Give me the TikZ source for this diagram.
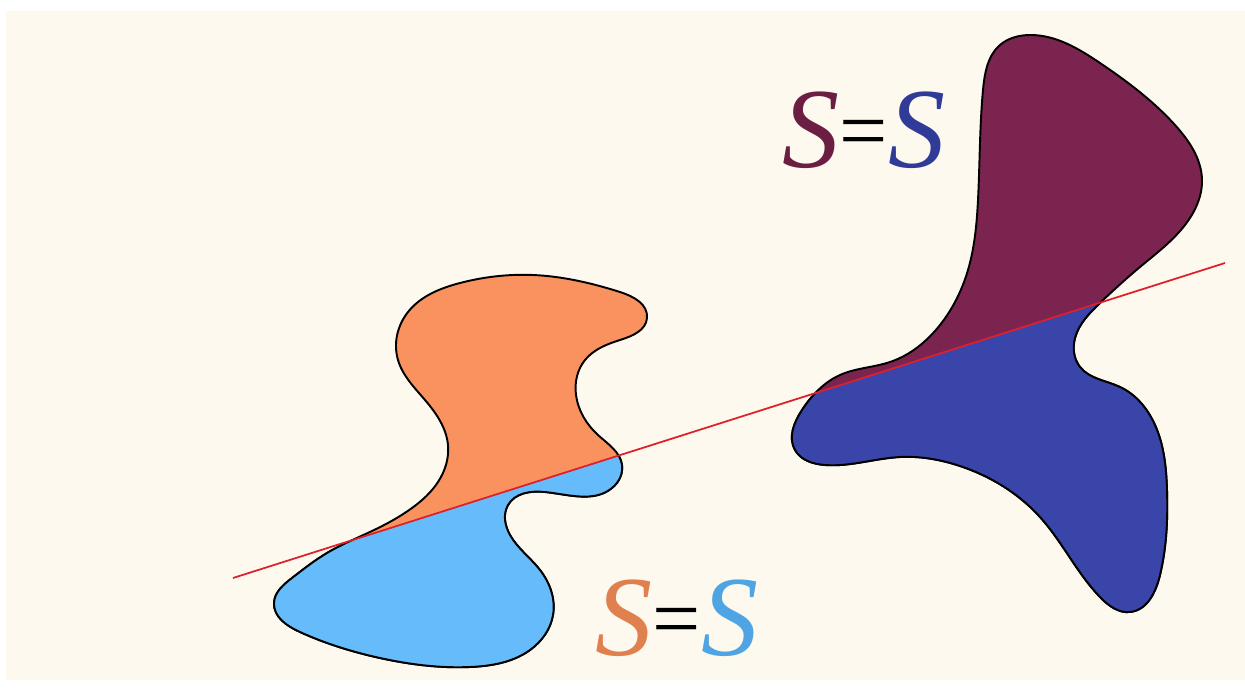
\documentclass[tikz,border=0pt]{standalone}
\usepackage{fontspec}
\setmainfont{Liberation Serif}
\usetikzlibrary{positioning, hobby}

\definecolor{paper}{HTML}{FDF9EE}
\definecolor{peach}{HTML}{FA925F}
\definecolor{sky}{HTML}{66BCFB}
\definecolor{plum}{HTML}{7C2450}
\definecolor{navy}{HTML}{3A45A9}
\definecolor{cutred}{HTML}{DE1F2C}
\definecolor{peachtxt}{HTML}{E0804F}
\definecolor{skytxt}{HTML}{4FA5E3}
\definecolor{plumtxt}{HTML}{6B1E42}
\definecolor{navytxt}{HTML}{2F3B96}

% outlines of the two blobs (pixel units, y downwards)
\def\blobleft{plot[closed hobby] coordinates {(533,275) (620,292) (647,318) (620,340) (585,360) (576,395) (598,435) (622,465) (612,488) (545,492) (508,505) (510,535) (540,570) (553,615) (530,650) (470,667) (380,658) (300,632) (274,603) (292,578) (327,553) (372,531) (412,508) (438,482) (448,445) (425,400) (398,360) (408,312) (460,283)}}
\def\blobright{plot[closed hobby] coordinates {(1030,35) (1100,63) (1175,125) (1202,180) (1185,225) (1140,267) (1100,303) (1075,338) (1080,367) (1120,387) (1155,425) (1167,490) (1160,575) (1130,612) (1100,597) (1040,517) (960,466) (900,457) (825,465) (795,450) (802,410) (840,375) (890,362) (940,325) (968,270) (978,200) (983,90) (1000,45)}}
\newcommand\eqsign{\raisebox{4pt}{\scalebox{0.75}{=}}}

\begin{document}
\begin{tikzpicture}[x=0.02cm, y=-0.02cm,
  blob/.style={draw=black, line width=1.1pt, line join=round},
  cutline/.style={draw=cutred, line width=1pt},
  eqlabel/.style={font=\fontsize{65}{65}\selectfont, anchor=base, inner sep=0pt}]

% page and paper
\fill[white] (0,0) rectangle (1245,680);
\fill[paper] (6,11) rectangle (1245,680);

\coordinate (cutL) at (233,578);
\coordinate (cutR) at (1225,263);

% upper halves
\filldraw[blob, fill=peach] \blobleft;
\filldraw[blob, fill=plum] \blobright;

% lower halves, below the cut
\begin{scope}
  \clip (0,652) -- (1245,256.7) -- (1245,700) -- (0,700) -- cycle;
  \filldraw[blob, fill=sky] \blobleft;
  \filldraw[blob, fill=navy] \blobright;
\end{scope}

\draw[cutline] (cutL) -- (cutR);

\node[eqlabel] (eqtop) at (864,167)
  {\textcolor{plumtxt}{\itshape S}\eqsign\textcolor{navytxt}{\itshape S}};
\node[eqlabel] (eqbot) at (677,655)
  {\textcolor{peachtxt}{\itshape S}\eqsign\textcolor{skytxt}{\itshape S}};
\end{tikzpicture}
\end{document}
